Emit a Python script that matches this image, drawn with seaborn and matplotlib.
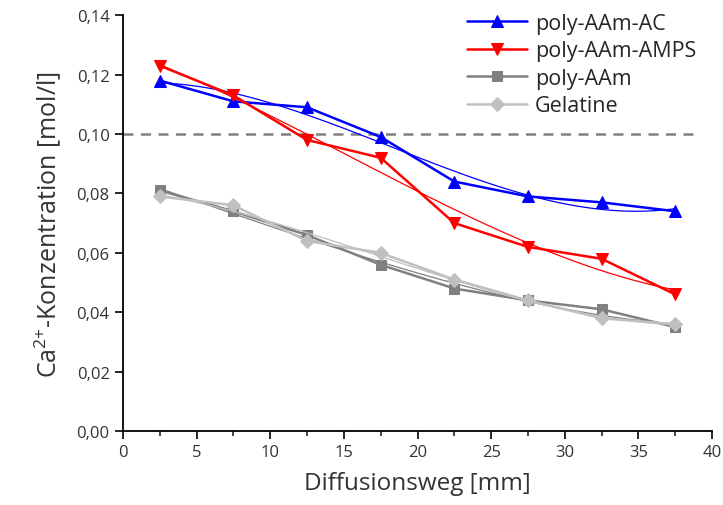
import numpy as np
import pandas as pd
import matplotlib
matplotlib.use('Agg')
import matplotlib.pyplot as plt
from matplotlib.ticker import FuncFormatter, MultipleLocator
import seaborn as sns

# Diffusion distance [mm]
weg = [2.5, 7.5, 12.5, 17.5, 22.5, 27.5, 32.5, 37.5]

# Ca2+ concentration [mol/l]
aam_ac = [0.118, 0.111, 0.109, 0.099, 0.084, 0.079, 0.077, 0.074]
aam_amps = [0.123, 0.113, 0.098, 0.092, 0.070, 0.062, 0.058, 0.046]
aam = [0.081, 0.074, 0.066, 0.056, 0.048, 0.044, 0.041, 0.035]
gelatine = [0.079, 0.076, 0.064, 0.060, 0.051, 0.044, 0.038, 0.036]

labels = ['poly-AAm-AC', 'poly-AAm-AMPS', 'poly-AAm', 'Gelatine']
series = [aam_ac, aam_amps, aam, gelatine]
colors = ['#0000FF', '#FF0000', '#808080', '#C0C0C0']
markers = ['^', 'v', 's', 'D']
msizes = [9, 9, 7, 7]

grenzwert = 0.10

sns.set_style('ticks')
plt.rcParams['font.family'] = ['Open Sans', 'DejaVu Sans']
plt.rcParams['mathtext.default'] = 'regular'

fig = plt.figure(figsize=(7.23, 5.06), dpi=100)
ax = fig.add_axes([0.170, 0.146, 0.815, 0.822])

ax.plot([0, 39], [grenzwert, grenzwert], color='#808080', lw=1.8,
        ls=(0, (4, 3)), zorder=1)

for lab, vals, c, m, ms in zip(labels, series, colors, markers, msizes):
    df = pd.DataFrame({'x': weg, 'y': vals})
    # thin fitted trend line
    sns.regplot(data=df, x='x', y='y', order=3, scatter=False, ci=None,
                ax=ax, line_kws=dict(color=c, lw=0.9), truncate=True)
    sns.lineplot(data=df, x='x', y='y', ax=ax, color=c, lw=1.8, marker=m,
                 markersize=ms, markeredgecolor=c, label=lab)

ax.set_xlim(0, 40)
ax.set_ylim(0, 0.14)
ax.xaxis.set_major_locator(MultipleLocator(5))
ax.xaxis.set_minor_locator(MultipleLocator(2.5))
ax.yaxis.set_major_locator(MultipleLocator(0.02))
ax.yaxis.set_major_formatter(FuncFormatter(lambda v, p: f'{v:.2f}'.replace('.', ',')))
ax.tick_params(axis='both', which='major', length=6, width=1.2, labelsize=12,
               colors='black', labelcolor='#333333')
ax.tick_params(axis='x', which='minor', length=3.5, width=1.2)
for s in ['left', 'bottom']:
    ax.spines[s].set_linewidth(1.3)
    ax.spines[s].set_color('black')
sns.despine(ax=ax)

ax.set_xlabel('Diffusionsweg [mm]', fontsize=17.5, color='#333333', labelpad=8)
ax.set_ylabel(r'Ca$^{2{+}}$-Konzentration [mol/l]', fontsize=18, color='#333333', labelpad=10)

leg = ax.legend(loc='upper left', bbox_to_anchor=(0.619, 1.011),
                bbox_transform=fig.transFigure, frameon=False,
                fontsize=15.5, handlelength=2.8, labelspacing=0.3, handletextpad=0.35)

fig.savefig('out.png', dpi=100)
